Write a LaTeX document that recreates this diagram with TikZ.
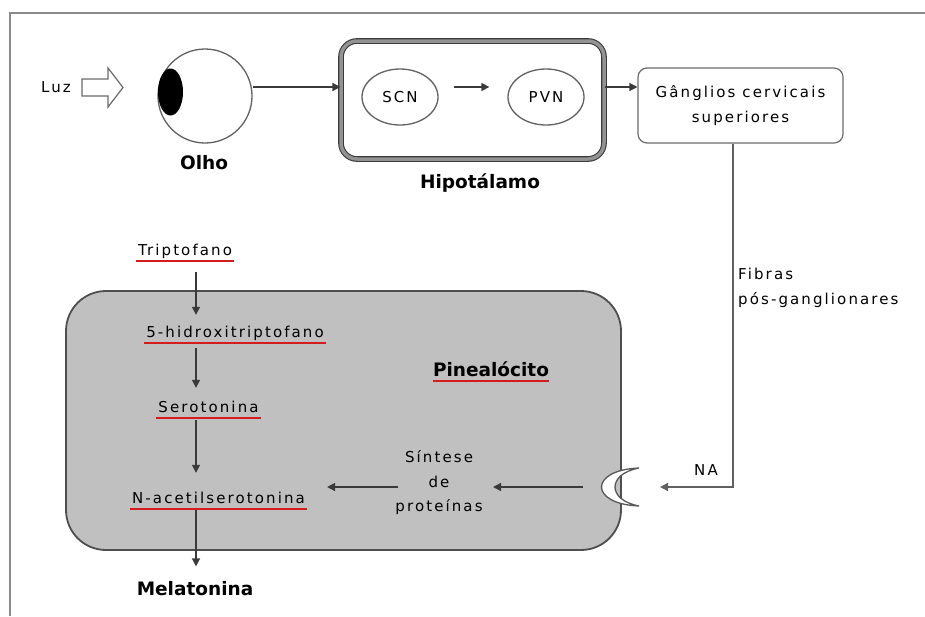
\documentclass[tikz,border=0pt]{standalone}
\usepackage{fontspec}
\setmainfont{DejaVu Sans}
\newfontfamily\regf{DejaVu Sans}[LetterSpace=14]
\newfontfamily\bldf{DejaVu Sans}
\usetikzlibrary{arrows.meta,shapes.geometric}
\definecolor{framec}{HTML}{8A8A8A}
\definecolor{ln}{HTML}{3A3A3A}
\definecolor{cellfill}{HTML}{C0C0C0}
\definecolor{ulred}{HTML}{D41C1C}
\tikzset{
 reg/.style={font=\regf\fontsize{15}{24.5}\selectfont, text=black},
 bold/.style={font=\bldf\bfseries\fontsize{18.5}{22}\selectfont, text=black},
 arr/.style={draw=ln, line width=1.4pt, -{Triangle[length=8pt,width=8pt]}},
 pathtxt/.style={reg, inner xsep=2pt, inner ysep=0pt, text height=11pt, text depth=4pt, anchor=base},
 ul/.style={draw=ulred, line width=2.2pt},
 nucleus/.style={ellipse, draw=ln!80, line width=1.3pt, minimum width=76pt, minimum height=56pt, inner sep=0pt, reg},
}
\begin{document}
\begin{tikzpicture}[x=1pt,y=-1pt]
\useasboundingbox (0,0) rectangle (925,616);
\fill[white] (0,0) rectangle (925,616);
% frame
\draw[framec, line width=2.5pt] (10,616) -- (10,13) -- (925,13);
% row helper
\coordinate (rowy) at (0,87);
% light
\node[reg, inner sep=0pt] (luz) at (56,87) {Luz};
\draw[draw=ln!75, line width=1.2pt, line join=miter] (82,79) -- (108,79) -- (108,68) -- (123,87.5) -- (108,107) -- (108,96) -- (82,96) -- cycle;
% eye
\node[circle, draw=ln!80, line width=1.3pt, minimum size=94pt, inner sep=0pt] (eye) at (205,96) {};
\fill[black] (170.5,92) ellipse [x radius=12.5, y radius=23.5];
\node[bold] (olho) at (204,163) {Olho};
% hypothalamus
\node[draw=ln, double=gray!85, double distance=3.5pt, line width=1.1pt, rounded corners=16pt, minimum width=263pt, minimum height=118pt] (hypo) at (472.5,100) {};
\node[bold] (hipl) at (480,183) {Hipotálamo};
\node[nucleus] (scn) at (400,97) {SCN};
\node[nucleus] (pvn) at (546,97) {PVN};
% ganglia
\node[draw=ln!75, line width=1.2pt, rounded corners=9pt, minimum width=205pt, minimum height=75pt, reg, font=\regf\fontsize{15}{25}\selectfont, align=center] (gang) at (740.5,105.5) {Gânglios cervicais\\superiores};
% top arrows
\draw[arr] (eye.east |- rowy) -- (hypo.west |- rowy);
\draw[arr, shorten <=15pt, shorten >=18pt] (scn.east |- rowy) -- (pvn.west |- rowy);
\draw[arr] (hypo.east |- rowy) -- (gang.west |- rowy);
% pinealocyte
\node[draw=ln!90, fill=cellfill, line width=1.8pt, rounded corners=40pt, minimum width=555pt, minimum height=259pt] (cell) at (343.5,420.5) {};
% synapse
\filldraw[fill=white, draw=ln!85, line width=1.3pt] (639,468) .. controls (589,470) and (589,504) .. (639,506) .. controls (607,500) and (607,474) .. cycle;
% fibres
\coordinate (bend) at (733,487);
\coordinate (natip) at (660,487);
\draw[arr, draw=ln!80] (gang.south -| bend) -- (bend) -- (natip);
\node[reg, align=left, anchor=west, inner sep=0pt] (fib) at (738,288) {Fibras\\pós-ganglionares};
\node[reg, inner sep=0pt] (na) at (706,470) {NA};
% pathway
\coordinate (col) at (196,0);
\node[pathtxt] (tri) at (185,255) {Triptofano};
\node[pathtxt] (hid) at (235,337) {5-hidroxitriptofano};
\node[pathtxt] (ser) at (208.5,412) {Serotonina};
\node[pathtxt] (nac) at (218.5,503) {N-acetilserotonina};
\node[bold, anchor=base] (mel) at (195,595) {Melatonina};
\node[bold, anchor=base, inner xsep=0pt, inner ysep=0pt, text depth=3pt] (pin) at (491,376) {Pinealócito};
\foreach \n in {tri,hid,ser,nac}{
  \draw[ul] ([yshift=-1.5pt]\n.south west) -- ([yshift=-1.5pt]\n.south east);
}
\draw[ul] ([yshift=-2pt]pin.south west) -- ([yshift=-2pt]pin.south east);
\draw[arr, shorten <=13pt, shorten >=11pt] (tri.south -| col) -- (hid.north -| col);
\draw[arr, shorten <=7pt, shorten >=13pt] (hid.south -| col) -- (ser.north -| col);
\draw[arr, shorten <=4pt, shorten >=19pt] (ser.south -| col) -- (nac.north -| col);
\draw[arr, shorten <=3pt, shorten >=11pt] (nac.south -| col) -- (mel.north -| col);
% protein synthesis
\node[reg, align=center, inner sep=0pt] (sint) at (439,483) {Síntese\\de\\proteínas};
\coordinate (synL) at (583,487);
\coordinate (sintR) at (493,487);
\coordinate (sintL) at (398,487);
\draw[arr] (synL) -- (sintR);
\draw[arr, shorten >=20pt] (sintL) -- (nac.east |- sintL);
\end{tikzpicture}
\end{document}
